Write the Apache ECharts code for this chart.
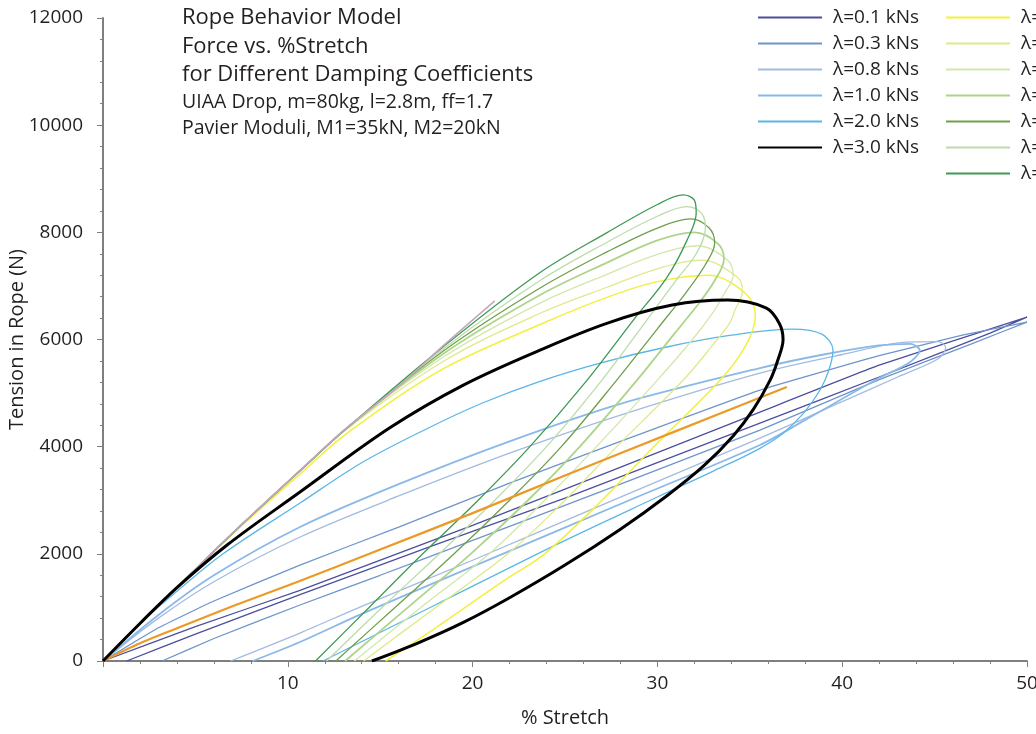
<!DOCTYPE html>
<html>
<head>
<meta charset="utf-8">
<title>Rope Behavior Model</title>
<script src="https://cdn.jsdelivr.net/npm/echarts@6.0.0/dist/echarts.min.js"></script>
<style>
html,body{margin:0;padding:0;background:#fff;}
#main{width:1036px;height:734px;}
</style>
</head>
<body>
<div id="main"></div>
<script>

/********** 数据 (% stretch, N) ********** */

var lam01 = [[0,0],[5,640],[10.66,1320],[20,2530],[30,3890],[35.55,4646],[42,5520],[50,6419],
    [48,6120],[42,5300],[35.55,4441],[25,3040],[18,2170],[10.66,1240],[5,500],[1.28,0]];

var lam03 = [[0,0],[3,620],[6,1120],[10.66,1791],[16,2500],[22,3320],[28,4100],[35.55,5057],[42,5700],[46.5,6080],[50,6326],
    [47,5920],[42,5250],[35.55,4310],[28,3300],[20,2250],[15,1600],[10.66,1045],[6,420],[3.2,0]];

var lam08 = [[0,0],[3,800],[6,1480],[10.66,2314],[16,3080],[22,3880],[28,4590],[35.55,5374],[40,5720],[43.5,5950],[45.2,5960],[45.6,5850],
    [45.2,5640],[43,5300],[40,4840],[35.55,4161],[28,3060],[20,1880],[14,1020],[10.66,522],[6.9,0]];

var lam10 = [[0,0],[3,860],[6,1600],[10.66,2500],[16,3300],[22,4100],[28,4800],[35.55,5467],[39,5720],[42,5890],[43.7,5920],[44.2,5800],
    [43.6,5560],[42,5280],[38,4500],[35.55,4031],[28,2930],[20,1760],[14,880],[10.66,355],[8.1,0]];

var lam20 = [[0,0],[2,700],[4,1300],[6.5,2000],[10.66,2948],[14,3700],[17.5,4330],[20.5,4810],[23.65,5220],[27,5570],[30.5,5860],[34,6080],[37.3,6195],[38.9,6100],[39.5,5803],
    [39.3,5450],[38.8,5057],[37.9,4620],[36.8,4250],[35.5,3960],[33,3540],[30,3060],[24.7,2200],[18,1050],[11.9,0]];

var lam30 = [[0,0],[2,700],[4,1370],[6.7,2160],[10.66,3153],[15.5,4348],[19.5,5150],[23.65,5803],[27.3,6307],[30.8,6643],[33.8,6736],[35.9,6587],[36.6,6300],[36.8,6000],[36.5,5600],
    [36.1,5243],[35.2,4700],[34.1,4200],[32.5,3640],[30.5,3080],[28,2460],[25,1790],[22,1180],[19.5,720],[17,330],[14.55,0]];

var grn1 = [[0,0],[2,700],[4.2,1440],[7,2370],[10.7,3500],[13.2,4250],[18.4,5450],[23.65,6280],[27.3,6790],[30,7080],[32.8,7200],[34.8,6850],[35.3,6450],
    [34.8,5900],[33.4,5243],[29.8,4000],[27,3000],[23.9,2000],[21.7,1500],[19.6,1000],[17.5,500],[15.3,0]];

var grn2 = [[0,0],[2,700],[4.2,1440],[7,2380],[10.7,3550],[13.2,4330],[18.4,5590],[23.65,6490],[27.3,6980],[30,7320],[32.4,7480],[34.3,7170],[34.6,6900],
    [34.2,6550],[33.9,6300],[33,5900],[31.4,5243],[27.8,4000],[25,3000],[21.9,2000],[18,1000],[14.1,0]];

var grn3 = [[0,0],[2,700],[4.2,1440],[7,2380],[10.7,3560],[13.2,4340],[18.4,5670],[23.65,6680],[27.3,7220],[30,7590],[32.2,7750],[33.8,7480],[34.1,7200],
    [33.6,6850],[33,6500],[31.9,6000],[30,5243],[26.7,4000],[23.9,3000],[20.9,2000],[17.2,1000],[13.6,0]];

var grn4 = [[0,0],[2,700],[4.2,1440],[7,2380],[10.7,3564],[13.2,4348],[18.4,5730],[23.65,6830],[27.3,7440],[30,7850],[32,8000],[33.3,7780],[33.6,7500],
    [33.1,7100],[32.3,6700],[30.9,6100],[28.9,5243],[25.8,4000],[23,3000],[19.9,2000],[16.5,1000],[13.1,0]];

var grn5 = [[0,0],[2,700],[4.2,1440],[7,2380],[10.7,3564],[13.2,4348],[18.4,5780],[23.65,6960],[27.3,7640],[30,8080],[31.8,8250],[32.8,8080],[33.1,7800],
    [32.6,7400],[31.6,6900],[30,6200],[27.8,5243],[24.8,4000],[22,3000],[19,2000],[15.8,1000],[12.6,0]];

var grn6 = [[0,0],[2,700],[4.2,1440],[7,2380],[10.7,3564],[13.2,4348],[18.4,5820],[23.65,7100],[27.3,7820],[30,8300],[31.6,8480],[32.4,8350],[32.6,8080],
    [32.1,7600],[31,7100],[29.3,6300],[27,5243],[24,4000],[21.2,3000],[18.2,2000],[15.1,1000],[12.1,0]];

var grn7 = [[0,0],[2,700],[4.2,1440],[7,2380],[10.7,3564],[13.2,4348],[18.4,5860],[23.65,7250],[27.3,8000],[30,8520],[31.4,8700],[32,8600],[32.1,8360],
    [31.6,7850],[30.5,7150],[28.7,6363],[26.2,5243],[23.1,4000],[20.3,3000],[17.3,2000],[14.4,1000],[11.5,0]];

var orangeLine = [[0,0],[2,330],[4,610],[7,1020],[10.4,1460],[15,2080],[20,2760],[25,3460],[31,4290],[37,5113]];

var pinkLine = [[0,0],[2,702],[4.2,1443],[7,2385],[10.7,3570],[13.2,4355],[16,5130],[18.4,5880],[21.2,6720]];

var names1 = ["λ=0.1 kNs","λ=0.3 kNs","λ=0.8 kNs","λ=1.0 kNs","λ=2.0 kNs","λ=3.0 kNs"];
var names2 = ["λ=4.0 kNs","λ=5.0 kNs","λ=6.0 kNs","λ=7.0 kNs","λ=8.0 kNs","λ=9.0 kNs","λ=10.0 kNs"];

var titleLines = ["Rope Behavior Model","Force vs. %Stretch","for Different Damping Coefficients"];
var subLines = ["UIAA Drop, m=80kg, l=2.8m, ff=1.7","Pavier Moduli, M1=35kN, M2=20kN"];

var font = '"Open Sans", "Noto Sans", sans-serif';
var ink = "#231f20";


/********** 线 ********** */
function line(name, data, color, width, smooth){
    return {
        name : name,
        type : "line",
        data : data,
        symbol : "none",
        smooth : smooth,
        lineStyle : {color : color, width : width},
        itemStyle : {color : color},
        emphasis : {disabled : true},
        silent : true
    };
}

var series = [
    line(names1[0], lam01, "#4b4f9e", 1.3, 0.1),
    line(names1[1], lam03, "#6f94cc", 1.3, 0.1),
    line(names1[2], lam08, "#a2bbe0", 1.3, 0.3),
    line(names1[3], lam10, "#8ab9e8", 1.8, 0.3),
    line(names1[4], lam20, "#5bb6e8", 1.3, 0.35),
    line(names2[0], grn1, "#f3ef3b", 1.5, 0.35),
    line(names2[1], grn2, "#dfe98b", 1.3, 0.35),
    line(names2[2], grn3, "#d3e7ab", 1.3, 0.35),
    line(names2[3], grn4, "#aed489", 1.8, 0.35),
    line(names2[4], grn5, "#6e9f4c", 1.3, 0.35),
    line(names2[5], grn6, "#bcdcaa", 1.3, 0.35),
    line(names2[6], grn7, "#3f9a52", 1.3, 0.35),
    line("pink", pinkLine, "#c9a3c0", 1.5, 0.3),
    line("orange", orangeLine, "#eb9a27", 2.2, 0.3),
    line(names1[5], lam30, "#000000", 3, 0.35)
];


/********** 标题文字 ********** */
var graphics = [];
titleLines.forEach(function(t, i){
    graphics.push({
        type : "text",
        style : {text : t, x : 182, y : 18 + i * 28.5, font : '22px ' + font, fill : ink, verticalAlign : "middle"}
    });
});
subLines.forEach(function(t, i){
    graphics.push({
        type : "text",
        style : {text : t, x : 182, y : 102 + i * 26.5, font : '19.5px ' + font, fill : ink, verticalAlign : "middle"}
    });
});

function legendAt(left, data){
    return {
        orient : "vertical",
        left : left,
        top : 8,
        padding : 0,
        itemWidth : 64,
        itemHeight : 14,
        itemGap : 7,
        selectedMode : false,
        itemStyle : {opacity : 0},
        textStyle : {fontFamily : font, fontSize : 19, color : ink, padding : [0,0,0,6]},
        data : data
    };
}

var axisGray = "#7f7f7f";

var option = {
    animation : false,
    backgroundColor : "#fff",
    grid : {left : 103, right : 9, top : 18, bottom : 73, containLabel : false, outerBoundsMode : "none"},
    legend : [legendAt(757, names1), legendAt(945, names2)],
    graphic : graphics,
    xAxis : {
        type : "value",
        min : 0, max : 50, interval : 10,
        name : "% Stretch",
        nameLocation : "middle",
        nameGap : 47,
        nameMoveOverlap : false,
        nameTextStyle : {fontFamily : font, fontSize : 20, color : ink},
        axisLine : {lineStyle : {color : axisGray, width : 2}},
        axisTick : {length : 6, lineStyle : {color : axisGray}},
        minorTick : {show : true, splitNumber : 5, length : 3, lineStyle : {color : axisGray}},
        axisLabel : {showMinLabel : false, margin : 13, fontFamily : font, fontSize : 19, color : ink},
        splitLine : {show : false}
    },
    yAxis : {
        type : "value",
        min : 0, max : 12000, interval : 2000,
        name : "Tension in Rope (N)",
        nameLocation : "middle",
        nameGap : 76,
        nameMoveOverlap : false,
        nameTextStyle : {fontFamily : font, fontSize : 20, color : ink},
        axisLine : {show : true, lineStyle : {color : axisGray, width : 2}},
        axisTick : {show : true, length : 6, lineStyle : {color : axisGray}},
        minorTick : {show : true, splitNumber : 5, length : 3, lineStyle : {color : axisGray}},
        axisLabel : {margin : 20, fontFamily : font, fontSize : 19, color : ink,
            formatter : function(v){ return String(v); }},
        splitLine : {show : false}
    },
    series : series
};

var myChart = echarts.init(document.getElementById("main"));
myChart.setOption(option);

</script>
</body>
</html>
